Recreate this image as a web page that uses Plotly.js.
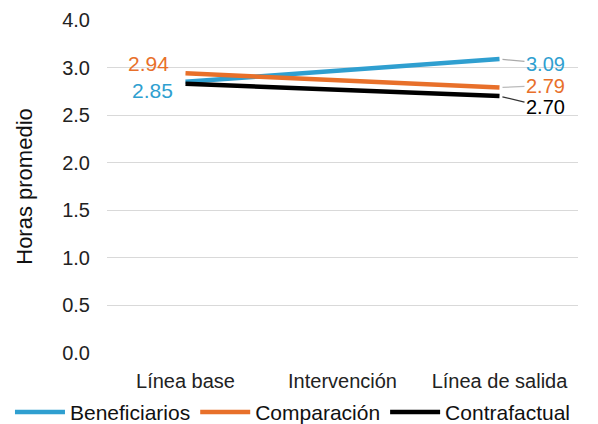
<!DOCTYPE html>
<html><head><meta charset="utf-8">
<script src="https://cdn.plot.ly/plotly-3.0.1.min.js"></script>
<style>html,body{margin:0;padding:0;background:#fff}</style>
</head><body>
<div id="chart" style="width:598px;height:424px"></div>
<script>
const categories = ["Línea base", "Intervención", "Línea de salida"];
const beneficiarios = [2.85, null, 3.09];
const comparacion = [2.94, null, 2.79];
const contrafactual = [2.83, null, 2.70];
const seriesNames = ["Beneficiarios", "Comparación", "Contrafactual"];
const yTickVals = [0, 0.5, 1, 1.5, 2, 2.5, 3, 3.5];
const yTickText = ["0.0", "0.5", "1.0", "1.5", "2.0", "2.5", "3.0", "4.0"];

const colors = ["#2f9fd0", "#e8702a", "#000000"];
const font = "Liberation Sans, Arial, sans-serif";
const allSeries = [beneficiarios, comparacion, contrafactual];

const traces = allSeries.map((s, i) => ({
  x: categories, y: s, name: seriesNames[i], type: "scatter", mode: "lines",
  connectgaps: true, line: {color: colors[i], width: 4.5}
}));

const ann = [];
const rightOffsets = [[46, 4.5], [46, -2], [46, 11]];
const leaderColors = ["#aaa", "#bbb", "#333"];
allSeries.forEach((s, i) => {
  ann.push({x: categories[2], y: s[2], xref: "x", yref: "y", text: s[2].toFixed(2),
    showarrow: true, arrowhead: 0, arrowwidth: 1.2, arrowcolor: leaderColors[i], standoff: 3,
    ax: rightOffsets[i][0], ay: rightOffsets[i][1], axref: "pixel", ayref: "pixel",
    font: {family: font, size: 20, color: colors[i]}});
});
ann.push({x: categories[0], y: comparacion[0], xref: "x", yref: "y", text: comparacion[0].toFixed(2),
  showarrow: false, xshift: -37, yshift: 10, font: {family: font, size: 21, color: colors[1]}});
ann.push({x: categories[0], y: beneficiarios[0], xref: "x", yref: "y", text: beneficiarios[0].toFixed(2),
  showarrow: false, xshift: -33, yshift: -9, font: {family: font, size: 21, color: colors[0]}});

const layout = {
  width: 598, height: 424,
  margin: {l: 107, r: 20, t: 20, b: 71, autoexpand: false},
  paper_bgcolor: "#fff", plot_bgcolor: "#fff",
  font: {family: font, size: 20, color: "#222"},
  showlegend: true,
  legend: {orientation: "h", xref: "paper", yref: "paper", x: -0.206, xanchor: "left",
    y: -0.178, yanchor: "middle", font: {family: font, size: 21, color: "#111"},
    itemwidth: 50, tracegroupgap: 0, bgcolor: "rgba(0,0,0,0)"},
  xaxis: {type: "category", range: [-0.5, 2.5], showgrid: false, zeroline: false,
    showline: false, ticks: "", ticklabelstandoff: 14, automargin: false,
    tickfont: {family: font, size: 20, color: "#222"}},
  yaxis: {range: [0, 3.5], tickvals: yTickVals, ticktext: yTickText, showgrid: true,
    gridcolor: "#d9d9d9", gridwidth: 1.2, zeroline: false, showline: false, ticks: "",
    ticklabelstandoff: 16, automargin: false, tickfont: {family: font, size: 20, color: "#222"},
    title: {text: "Horas promedio", font: {family: font, size: 22, color: "#111"}, standoff: 23}},
  annotations: ann
};
Plotly.newPlot("chart", traces, layout, {displayModeBar: false, staticPlot: true});
</script>
</body></html>
